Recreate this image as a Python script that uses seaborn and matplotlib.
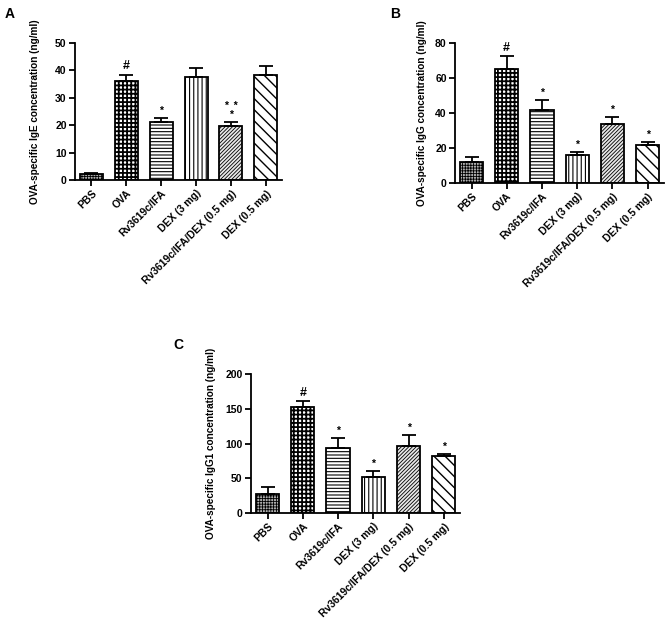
import numpy as np
import pandas as pd
import seaborn as sns
from matplotlib import pyplot as plt

groups = ["PBS", "OVA", "Rv3619c/IFA", "DEX (3 mg)", "Rv3619c/IFA/DEX (0.5 mg)", "DEX (0.5 mg)"]

ige_mean = [2.3, 36.0, 21.0, 37.6, 19.6, 38.5]
ige_err = [0.3, 2.5, 1.6, 3.2, 1.6, 3.0]
ige_marks = ["", "#", "*", "", "*  *\n*", ""]

igg_mean = [12.0, 65.0, 42.0, 16.0, 34.0, 22.0]
igg_err = [3.0, 7.5, 5.5, 1.5, 3.5, 1.5]
igg_marks = ["", "#", "*", "*", "*", "*"]

igg1_mean = [27.0, 152.0, 94.0, 52.0, 97.0, 82.0]
igg1_err = [10.0, 9.0, 14.0, 8.0, 15.0, 3.0]
igg1_marks = ["", "#", "*", "*", "*", "*"]

# hatch, hatch linewidth, face colour for each group
hatches = ["++++++", "++++", "-----", "||||", "/////////", "\\\\\\"]
hatch_lw = [0.6, 1.3, 0.8, 0.8, 0.6, 1.0]
faces = ["#b0b0b0", "white", "white", "white", "#e8e8e8", "white"]

sns.set_style("ticks")
plt.rcParams["font.family"] = ["Liberation Sans", "DejaVu Sans"]
plt.rcParams["font.weight"] = "bold"
plt.rcParams["text.color"] = "black"
plt.rcParams["axes.labelcolor"] = "black"
plt.rcParams["xtick.color"] = "black"
plt.rcParams["ytick.color"] = "black"
plt.rcParams["axes.edgecolor"] = "black"
plt.rcParams["hatch.linewidth"] = 0.8


def bar_panel(ax, mean, err, marks, ymax, ystep, ylabel, letter, letter_x, pad):
    df = pd.DataFrame({"group": groups, "value": mean})
    sns.barplot(data=df, x="group", y="value", color="white", edgecolor="black",
                linewidth=1.3, width=0.66, saturation=1, ax=ax)
    for p, h, lw, fc in zip(ax.patches, hatches, hatch_lw, faces):
        p.set_hatch(h)
        p.set_facecolor(fc)
        if hasattr(p, "set_hatch_linewidth"):
            p.set_hatch_linewidth(lw)
    x = np.arange(len(groups))
    ax.errorbar(x, mean, yerr=[np.zeros(len(err)), err], fmt="none",
                ecolor="black", elinewidth=1.3, capsize=5, capthick=1.3)
    for xi, m, e, t in zip(x, mean, err, marks):
        if t:
            ax.text(xi, m + e + ymax * 0.015, t, ha="center", va="bottom",
                    fontsize=9 if t == "#" else 7.5, linespacing=0.8)
    ax.set_xlim(-0.47, 5.46)
    ax.set_ylim(0, ymax)
    ax.set_yticks(np.arange(0, ymax + 1, ystep))
    ax.set_xlabel("")
    ax.set_ylabel(ylabel, fontsize=7.2, fontweight="bold", labelpad=pad)
    ax.tick_params(axis="both", labelsize=7.5, width=1.3, length=4, pad=2)
    ax.set_xticks(x)
    ax.set_xticklabels(groups, rotation=45, ha="right", rotation_mode="anchor",
                       fontweight="bold")
    for lab in ax.get_yticklabels():
        lab.set_fontweight("bold")
    for s in ["left", "bottom"]:
        ax.spines[s].set_linewidth(1.3)
    sns.despine(ax=ax)
    ax.text(letter_x, 1.26, letter, transform=ax.transAxes,
            fontsize=10, fontweight="bold", ha="left", va="top")


fig = plt.figure(figsize=(6.65, 6.21), dpi=100)
ax_a = fig.add_axes([0.1128, 0.7101, 0.311, 0.2206])
ax_b = fig.add_axes([0.6842, 0.7053, 0.314, 0.2254])
ax_c = fig.add_axes([0.3774, 0.1739, 0.3143, 0.2238])

bar_panel(ax_a, ige_mean, ige_err, ige_marks, 50, 10,
          "OVA-specific IgE concentration (ng/ml)", "A", -0.34, 11)
bar_panel(ax_b, igg_mean, igg_err, igg_marks, 80, 20,
          "OVA-specific IgG concentration (ng/ml)", "B", -0.31, 6)
bar_panel(ax_c, igg1_mean, igg1_err, igg1_marks, 200, 50,
          "OVA-specific IgG1 concentration (ng/ml)", "C", -0.37, 7)

fig.savefig("out.png", dpi=100)
